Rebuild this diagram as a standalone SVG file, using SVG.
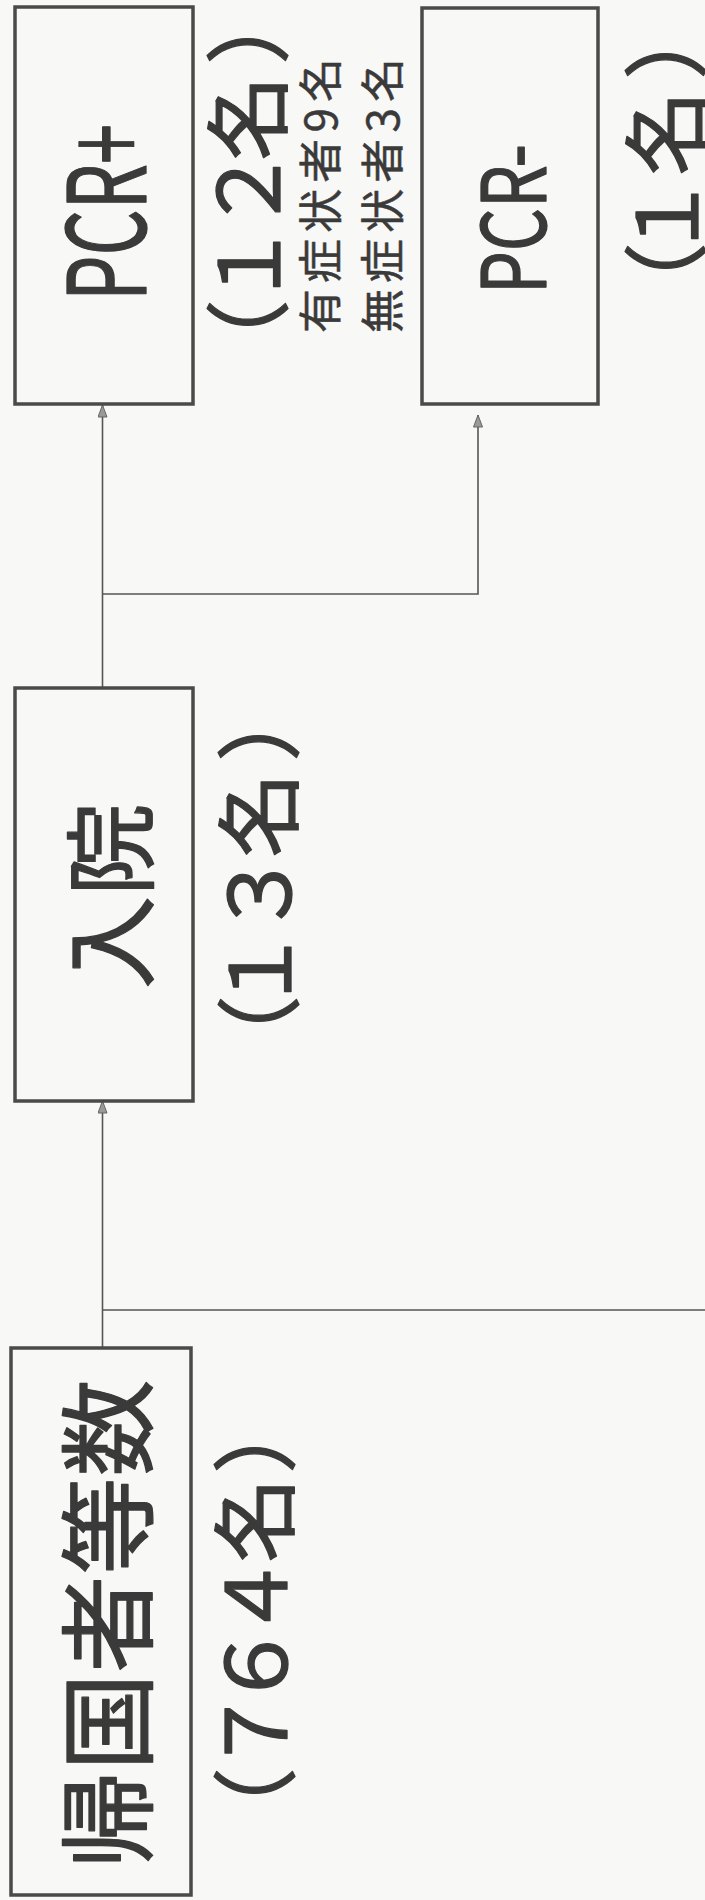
<svg xmlns="http://www.w3.org/2000/svg" width="705" height="1900" viewBox="0 0 705 1900">
  <style>
    .box { fill: none; stroke: #4a4a4a; stroke-width: 3.5; }
    .t { font-family: "Noto Sans CJK JP", "Noto Sans", sans-serif; font-weight: 400; fill: #3a3a3a; stroke: #3a3a3a; stroke-width: 1.3; stroke-linejoin: round; }
    .s { font-family: "Noto Sans CJK JP", "Noto Sans", sans-serif; font-weight: 400; fill: #3a3a3a; stroke: #3a3a3a; stroke-width: 0.5; }
    .conn { fill: none; stroke: #555; stroke-width: 1.6; }
  </style>
  <defs>
    <marker id="arrow" markerUnits="userSpaceOnUse" viewBox="0 0 13 10" refX="12.5" refY="5" markerWidth="13" markerHeight="10" orient="auto">
      <path d="M0.5,0.5 L12.5,5 L0.5,9.5 Z" fill="#9a9a9a" stroke="#666" stroke-width="1"/>
    </marker>
  </defs>
  <rect x="0" y="0" width="705" height="1900" fill="#f8f8f6"/>

  <g id="connectors">
    <path class="conn" d="M102.5,1348 V1101" marker-end="url(#arrow)"/>
    <path class="conn" d="M102.5,1310 H705"/>
    <path class="conn" d="M102.5,688 V405" marker-end="url(#arrow)"/>
    <path class="conn" d="M102.5,594 H478 V415" marker-end="url(#arrow)"/>
  </g>

  <g id="returnees">
    <rect class="box" x="11" y="1348" width="180" height="547"/>
    <text class="t" transform="translate(101,1624) rotate(-90)" font-size="97" text-anchor="middle" dominant-baseline="central" textLength="489" lengthAdjust="spacing">帰国者等数</text>
    <g transform="translate(249,0) rotate(-90)">
      <text class="t" font-size="85" text-anchor="middle" dominant-baseline="central"><tspan x="-1810">（</tspan><tspan x="-1731">７</tspan><tspan x="-1666">６</tspan><tspan x="-1597">４</tspan><tspan x="-1520">名</tspan><tspan x="-1431">）</tspan></text>
    </g>
  </g>

  <g id="admitted">
    <rect class="box" x="15" y="688" width="178" height="413"/>
    <text class="t" transform="translate(105,896) rotate(-90)" font-size="93" text-anchor="middle" dominant-baseline="central" textLength="186" lengthAdjust="spacing">入院</text>
    <g transform="translate(253,0) rotate(-90)">
      <text class="t" font-size="85" text-anchor="middle" dominant-baseline="central"><tspan x="-1038">（</tspan><tspan x="-970">１</tspan><tspan x="-894">３</tspan><tspan x="-815">名</tspan><tspan x="-719">）</tspan></text>
    </g>
  </g>

  <g id="pcr-positive">
    <rect class="box" x="15" y="7" width="178" height="397"/>
    <text class="t" transform="translate(146,301) rotate(-90)" font-size="108" textLength="177" lengthAdjust="spacingAndGlyphs">PCR+</text>
    <g transform="translate(242,0) rotate(-90)">
      <text class="t" font-size="85" text-anchor="middle" dominant-baseline="central"><tspan x="-342">（</tspan><tspan x="-265">１</tspan><tspan x="-190">２</tspan><tspan x="-118">名</tspan><tspan x="-22">）</tspan></text>
    </g>
    <text class="s" transform="translate(318,195.5) rotate(-90)" font-size="44" text-anchor="middle" dominant-baseline="central" textLength="275" lengthAdjust="spacing">有症状者9名</text>
    <text class="s" transform="translate(380,195.5) rotate(-90)" font-size="44" text-anchor="middle" dominant-baseline="central" textLength="275" lengthAdjust="spacing">無症状者3名</text>
  </g>

  <g id="pcr-negative">
    <rect class="box" x="422" y="8" width="176" height="396"/>
    <text class="t" transform="translate(546,294) rotate(-90)" font-size="89" textLength="150" lengthAdjust="spacingAndGlyphs">PCR-</text>
    <g transform="translate(660,0) rotate(-90)">
      <text class="t" font-size="85" text-anchor="middle" dominant-baseline="central"><tspan x="-285">（</tspan><tspan x="-217">１</tspan><tspan x="-133">名</tspan><tspan x="-37">）</tspan></text>
    </g>
  </g>
</svg>
